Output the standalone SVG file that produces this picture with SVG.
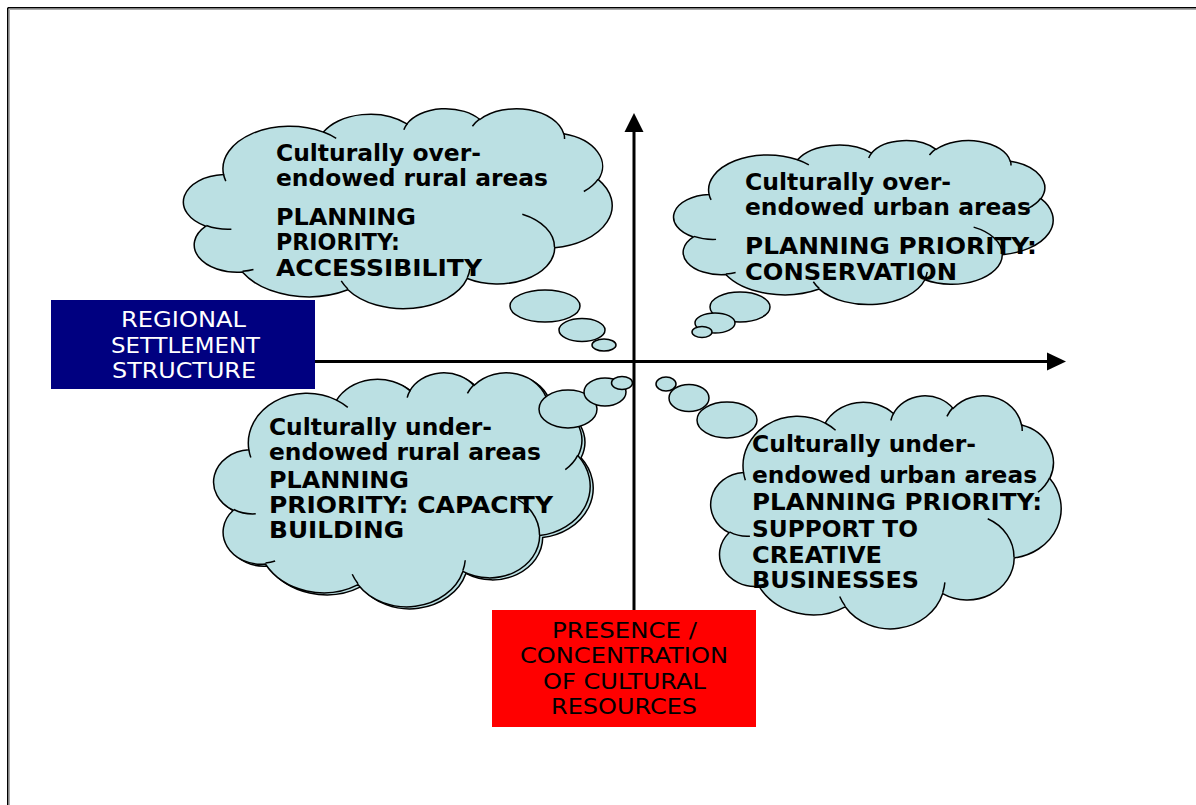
<svg xmlns="http://www.w3.org/2000/svg" xmlns:xlink="http://www.w3.org/1999/xlink" width="1196" height="805" viewBox="0 0 1196 805">
<style>
.t{font-family:"DejaVu Sans",Verdana,sans-serif;font-weight:bold;font-size:23px;fill:#000}
.lbl{font-family:"DejaVu Sans",Verdana,sans-serif;font-size:22px;text-anchor:middle}
.bub{fill:#BBE0E3;stroke:#000;stroke-width:1.5}
.ax{stroke:#000;stroke-width:3;fill:none}
</style>
<defs>
<path id="cloudShape" fill="#BBE0E3" stroke="#000" stroke-width="1.5" vector-effect="non-scaling-stroke" d="M3900 14370 A6753 9190 0 0 1 14006 5203 A5333 7267 0 0 1 22457 3435 A4365 5945 0 0 1 29834 2483 A4857 6595 0 0 1 38320 5578 A5333 7273 0 0 1 41820 15462 A6775 9220 0 0 1 37406 30204 A5785 7867 0 0 1 28557 36815 A6752 9215 0 0 1 16483 39268 A7720 10543 0 0 1 5799 35449 A4360 5918 0 0 1 2108 25528 A4345 5945 0 0 1 3900 14370 Z"/>
<path id="cloudCrease" fill="none" stroke="#000" stroke-width="1.5" vector-effect="non-scaling-stroke" d="M4693 26177 A4345 5945 0 0 1 2160 25380 M6928 34899 A4360 5918 0 0 1 5819 35281 M16478 39090 A6752 9215 0 0 1 15809 37348 M28827 34751 A6752 9215 0 0 1 28560 36661 M34129 22954 A5785 7867 0 0 1 37381 30090 M41798 15354 A5333 7273 0 0 1 40350 18030 M38324 5426 A4857 6595 0 0 1 38400 6690 M29078 3952 A4857 6595 0 0 1 29820 2340 M22141 4720 A4365 5945 0 0 1 22500 3331 M14000 5192 A6753 9190 0 0 1 15298 6539 M4127 15789 A6753 9190 0 0 1 3900 14370"/>
</defs>
<rect width="1196" height="805" fill="#fff"/>
<g id="frame">
<line x1="7.75" y1="7.75" x2="1196" y2="7.75" stroke="#000" stroke-width="1.5"/>
<line x1="7.75" y1="7.75" x2="7.75" y2="805" stroke="#000" stroke-width="1.5"/>
<line x1="9.5" y1="9.5" x2="1196" y2="9.5" stroke="#aaa" stroke-width="1"/>
<line x1="9.5" y1="9.5" x2="9.5" y2="805" stroke="#aaa" stroke-width="1"/>
</g>
<g id="connectors">
<line class="ax" x1="634" y1="130" x2="634" y2="612"/>
<polygon points="634,113 624.5,132 643.5,132" fill="#000"/>
<line class="ax" x1="313" y1="361.5" x2="1050" y2="361.5"/>
<polygon points="1066,361.5 1047,352.5 1047,370.5" fill="#000"/>
</g>
<g id="cloud-over-rural">
<use xlink:href="#cloudShape" transform="translate(185,108) scale(0.009884,0.0046296)"/>
<use xlink:href="#cloudCrease" transform="translate(185,108) scale(0.009884,0.0046296)"/>
<ellipse class="bub" cx="545" cy="306" rx="35" ry="16"/>
<ellipse class="bub" cx="582" cy="330" rx="23" ry="11.5"/>
<ellipse class="bub" cx="604" cy="345" rx="12" ry="6"/>
<text class="t" x="276" y="161" textLength="205" lengthAdjust="spacingAndGlyphs">Culturally over-</text>
<text class="t" x="276" y="186" textLength="272" lengthAdjust="spacingAndGlyphs">endowed rural areas</text>
<text class="t" x="276" y="225" textLength="140" lengthAdjust="spacingAndGlyphs">PLANNING</text>
<text class="t" x="276" y="250" textLength="124" lengthAdjust="spacingAndGlyphs">PRIORITY:</text>
<text class="t" x="276" y="276" textLength="206" lengthAdjust="spacingAndGlyphs">ACCESSIBILITY</text>
</g>
<g id="cloud-over-urban">
<use xlink:href="#cloudShape" transform="translate(675,140) scale(0.00875,0.0037963)"/>
<use xlink:href="#cloudCrease" transform="translate(675,140) scale(0.00875,0.0037963)"/>
<ellipse class="bub" cx="740" cy="307" rx="30" ry="15"/>
<ellipse class="bub" cx="715" cy="323" rx="20" ry="10"/>
<ellipse class="bub" cx="702" cy="332" rx="10" ry="5.5"/>
<text class="t" x="745" y="190" textLength="206" lengthAdjust="spacingAndGlyphs">Culturally over-</text>
<text class="t" x="745" y="215" textLength="286" lengthAdjust="spacingAndGlyphs">endowed urban areas</text>
<text class="t" x="745" y="254" textLength="292" lengthAdjust="spacingAndGlyphs">PLANNING PRIORITY:</text>
<text class="t" x="745" y="280" textLength="212" lengthAdjust="spacingAndGlyphs">CONSERVATION</text>
</g>
<g id="cloud-under-rural">
<use xlink:href="#cloudShape" transform="translate(218,374) scale(0.0086806,0.0054167)"/>
<use xlink:href="#cloudShape" transform="translate(215,372) scale(0.0086806,0.0054167)"/>
<use xlink:href="#cloudCrease" transform="translate(215,372) scale(0.0086806,0.0054167)"/>
<ellipse class="bub" cx="568" cy="409" rx="29" ry="19"/>
<ellipse class="bub" cx="605" cy="392" rx="21" ry="14"/>
<ellipse class="bub" cx="622" cy="383" rx="10.5" ry="6.5"/>
<text class="t" x="269" y="435" textLength="223" lengthAdjust="spacingAndGlyphs">Culturally under-</text>
<text class="t" x="269" y="460" textLength="272" lengthAdjust="spacingAndGlyphs">endowed rural areas</text>
<text class="t" x="269" y="488" textLength="140" lengthAdjust="spacingAndGlyphs">PLANNING</text>
<text class="t" x="269" y="513" textLength="284" lengthAdjust="spacingAndGlyphs">PRIORITY: CAPACITY</text>
<text class="t" x="269" y="538" textLength="135" lengthAdjust="spacingAndGlyphs">BUILDING</text>
</g>
<g id="cloud-under-urban">
<use xlink:href="#cloudShape" transform="translate(712,395) scale(0.0080787,0.0053935)"/>
<use xlink:href="#cloudCrease" transform="translate(712,395) scale(0.0080787,0.0053935)"/>
<ellipse class="bub" cx="666" cy="384" rx="10" ry="7"/>
<ellipse class="bub" cx="689" cy="398" rx="20" ry="13.5"/>
<ellipse class="bub" cx="727" cy="420" rx="30" ry="18"/>
<text class="t" x="752" y="452" textLength="224" lengthAdjust="spacingAndGlyphs">Culturally under-</text>
<text class="t" x="752" y="483" textLength="285" lengthAdjust="spacingAndGlyphs">endowed urban areas</text>
<text class="t" x="752" y="510" textLength="290" lengthAdjust="spacingAndGlyphs">PLANNING PRIORITY:</text>
<text class="t" x="752" y="537" textLength="166" lengthAdjust="spacingAndGlyphs">SUPPORT TO</text>
<text class="t" x="752" y="563" textLength="130" lengthAdjust="spacingAndGlyphs">CREATIVE</text>
<text class="t" x="752" y="588" textLength="167" lengthAdjust="spacingAndGlyphs">BUSINESSES</text>
</g>
<g id="axis-x-label">
<rect x="51" y="300" width="264" height="89" fill="#000080"/>
<text class="lbl" fill="#fff" x="183.5" y="327" textLength="125" lengthAdjust="spacingAndGlyphs">REGIONAL</text>
<text class="lbl" fill="#fff" x="185.5" y="353" textLength="149" lengthAdjust="spacingAndGlyphs">SETTLEMENT</text>
<text class="lbl" fill="#fff" x="184" y="378" textLength="144" lengthAdjust="spacingAndGlyphs">STRUCTURE</text>
</g>
<g id="axis-y-label">
<rect x="492" y="610" width="264" height="117" fill="#ff0000"/>
<text class="lbl" fill="#000" x="624.5" y="638" textLength="145" lengthAdjust="spacingAndGlyphs">PRESENCE /</text>
<text class="lbl" fill="#000" x="624" y="663" textLength="208" lengthAdjust="spacingAndGlyphs">CONCENTRATION</text>
<text class="lbl" fill="#000" x="624.5" y="689" textLength="163" lengthAdjust="spacingAndGlyphs">OF CULTURAL</text>
<text class="lbl" fill="#000" x="624" y="714" textLength="146" lengthAdjust="spacingAndGlyphs">RESOURCES</text>
</g>
</svg>
